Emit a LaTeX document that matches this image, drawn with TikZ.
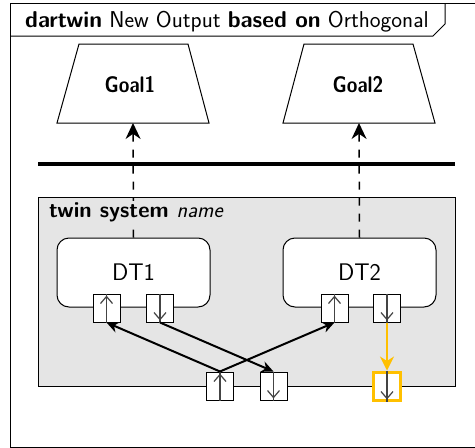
\documentclass[tikz,border=0pt]{standalone}
\usepackage{fontspec}
\usetikzlibrary{arrows.meta}
\definecolor{gold}{HTML}{FFC000}
\definecolor{portgray}{HTML}{444444}
\newcommand\myupmark[1]{%
  \draw[portline] (#1.south) -- (#1.north);
  \draw[portline] ([shift={(-6,10)}]#1.north) -- ([shift={(0,3)}]#1.north) -- ([shift={(6,10)}]#1.north);}
\newcommand\mydownmark[1]{%
  \draw[portline] (#1.north) -- (#1.south);
  \draw[portline] ([shift={(-6,-10)}]#1.south) -- ([shift={(0,-3)}]#1.south) -- ([shift={(6,-10)}]#1.south);}
\newcommand\mygoaltext[1]{\scalebox{0.86}[1]{#1}}
\begin{document}
\begin{tikzpicture}[x=1pt,y=-1pt,
  font=\sffamily\fontsize{20}{24}\selectfont,
  frame/.style={draw=black, line width=1pt},
  goalshape/.style={draw=black, line width=1pt, fill=white},
  goaltext/.style={font=\sffamily\bfseries\fontsize{22.5}{26}\selectfont},
  dtbox/.style={draw=black, line width=1pt, fill=white, rounded corners=12pt, minimum width=153pt, minimum height=69pt, font=\sffamily\fontsize{24}{28}\selectfont},
  port/.style={draw=black, fill=white, line width=1pt, minimum width=27pt, minimum height=28pt, inner sep=0pt},
  yport/.style={port, draw=gold, line width=3pt},
  portline/.style={draw=portgray, line width=1.2pt},
  conn/.style={draw=black, line width=2pt, -{Stealth[length=12pt,width=11pt]}},
  yconn/.style={draw=gold, line width=2pt, -{Stealth[length=14pt,width=14pt]}},
  dconn/.style={draw=black, line width=1.5pt, dash pattern=on 8pt off 8pt, -{Stealth[length=16pt,width=15pt]}},
  ]
\useasboundingbox (0,0) rectangle (475,448);
% frame
\draw[frame] (480,3) -- (10,3) -- (10,447) -- (480,447);
\draw[frame] (10,36) -- (433,36) -- (445,24) -- (445,3);
\node[anchor=base west, inner sep=0pt, font=\sffamily\fontsize{22.9}{26}\selectfont] (title) at (25,27) {\bfseries dartwin\mdseries{} New Output \bfseries based on\mdseries{} Orthogonal};
% separator
\draw[line width=4pt] (38,164) -- (455,164);
% twin system box
\path[fill=gray!20, draw=black, line width=1pt] (38,197) rectangle (455,386);
% goals
\draw[goalshape] (79,44) -- (188,44) -- (209,123) -- (57,123) -- cycle;
\draw[goalshape] (304,44) -- (413,44) -- (435,123) -- (283,123) -- cycle;
\node[goaltext] (g1) at (130,85) {\mygoaltext{Goal1}};
\node[goaltext] (g2) at (358,85) {\mygoaltext{Goal2}};
\coordinate (g1b) at (133,123);
\coordinate (g2b) at (359,123);
% DT boxes
\node[dtbox] (dt1) at (133.5,272.5) {DT1};
\node[dtbox] (dt2) at (359.5,272.5) {DT2};
% dashed
\draw[dconn] (dt1.north) -- (g1b);
\draw[dconn] (dt2.north) -- (g2b);
\node[anchor=base west, inner sep=1pt, fill=gray!20, font=\sffamily\fontsize{22}{26}\selectfont] (ts) at (48,217) {\bfseries twin system \mdseries\itshape name};
% ports
\node[port] (p1u) at (106.5,308) {};
\node[port] (p1d) at (160,308) {};
\node[port] (p2u) at (334.5,308) {};
\node[port] (p2d) at (387,308) {};
\node[port] (bu) at (220,386) {};
\node[port] (bd) at (273.5,386) {};
\node[yport] (by) at (387,386) {};
\myupmark{p1u}
\mydownmark{p1d}
\myupmark{p2u}
\mydownmark{p2d}
\myupmark{bu}
\mydownmark{bd}
\mydownmark{by}
% connectors
\draw[conn] (bu.north) -- (p1u.south);
\draw[conn] (p1d.south) -- (bd.north);
\draw[conn] (bu.north) -- (p2u.south);
\draw[yconn] (p2d.south) -- (by.north);
\end{tikzpicture}
\end{document}
